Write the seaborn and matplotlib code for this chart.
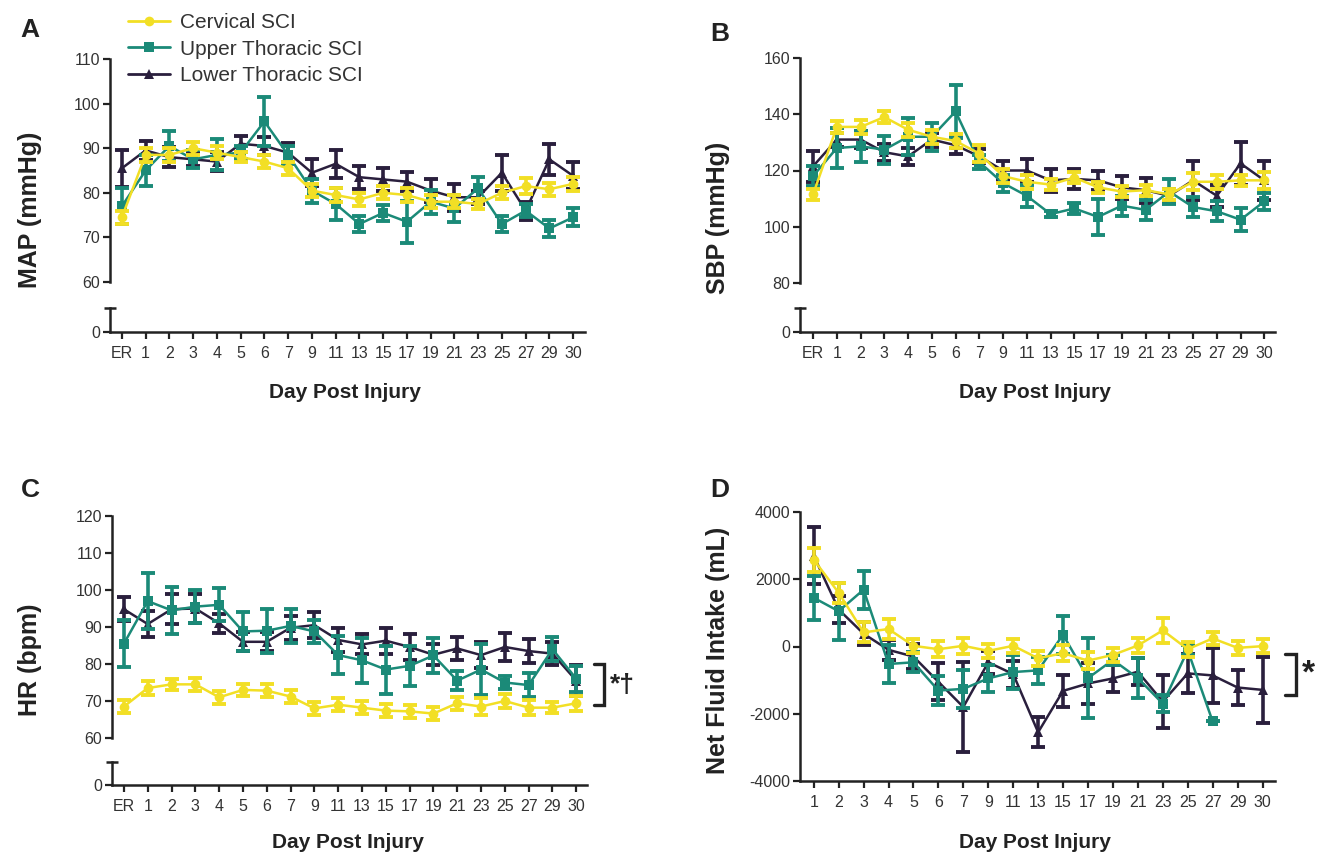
import numpy as np
import pandas as pd
import matplotlib
matplotlib.use('Agg')
import matplotlib.pyplot as plt
from matplotlib.lines import Line2D
import seaborn as sns

# ---- data ----
days = ['ER', '1', '2', '3', '4', '5', '6', '7', '9', '11', '13', '15', '17', '19', '21', '23', '25', '27', '29', '30']
days_fluid = days[1:]

groups = ['Cervical SCI', 'Upper Thoracic SCI', 'Lower Thoracic SCI']
colors = {'Cervical SCI': '#F2DF25', 'Upper Thoracic SCI': '#1B8A78', 'Lower Thoracic SCI': '#2A1F3D'}
markers = {'Cervical SCI': 'o', 'Upper Thoracic SCI': 's', 'Lower Thoracic SCI': '^'}
zorders = {'Cervical SCI': 5, 'Upper Thoracic SCI': 4, 'Lower Thoracic SCI': 3}

# MAP (mmHg)
map_cerv = [74.5, 88.5, 88.5, 90, 89, 88, 87, 85.5, 80.5, 79.5, 78.5, 80, 79.5, 78, 78, 77.5, 80, 81.5, 80.8, 82]
map_cerv_sem = [1.5, 1.5, 1.5, 1.5, 1.5, 1.2, 1.5, 1.5, 1.5, 1.5, 1.5, 1.5, 1.5, 1.5, 1.5, 1.2, 1.5, 1.8, 1.5, 1.5]
map_upper = [77, 85, 90.5, 87.5, 88.5, 89, 96, 88.5, 80.5, 77.5, 73, 75.5, 73.5, 78, 76.5, 81, 73, 76, 72, 74.5]
map_upper_sem = [4, 3.5, 3.3, 2, 3.5, 1.5, 5.5, 2, 2.7, 3.5, 1.8, 1.8, 4.7, 2.7, 3, 2.5, 1.8, 1.5, 2, 2]
map_lower = [85.5, 89.5, 88, 87.5, 87, 91, 90.5, 89, 84.5, 86.5, 83.5, 83, 82.5, 80.5, 79, 79, 84.5, 76, 87.5, 83.8]
map_lower_sem = [4.2, 2.2, 2.3, 1.5, 2.2, 1.8, 2, 2.2, 3, 3.2, 2.6, 2.6, 2.2, 2.6, 3, 1.5, 4, 2, 3.5, 3]

# SBP (mmHg)
sbp_cerv = [111.5, 135.5, 135.5, 139, 134.5, 132, 130.5, 126, 118, 116, 115, 117.5, 114, 112.5, 113, 111.5, 116, 116, 116.5, 116.5]
sbp_cerv_sem = [2, 2, 2.5, 2, 2.5, 2.5, 2.5, 3, 2.5, 2.5, 2, 2, 2, 2, 2, 2, 3, 2.5, 2, 3]
sbp_upper = [118, 128, 128.6, 127.4, 132, 132, 141, 123, 115.5, 111, 104.5, 106.5, 103.5, 107.5, 106, 112.5, 107, 105.5, 102.5, 109]
sbp_upper_sem = [3.5, 7, 5.4, 5, 6.5, 5, 9.5, 2.5, 3, 4, 1, 2, 6.5, 3.5, 3.5, 4.5, 3.5, 3.5, 4, 3]
sbp_lower = [121.5, 131, 131, 126.5, 125, 131, 129, 125, 120, 120, 116.5, 117, 116.5, 114, 113, 111, 116.5, 111, 122.5, 116.5]
sbp_lower_sem = [5.5, 2.5, 3, 3, 3, 2.5, 3, 2.5, 3.5, 4, 4, 3.5, 3.5, 4, 4.5, 2.5, 7, 4, 7.5, 7]

# HR (bpm)
hr_cerv = [68.5, 73.5, 74.5, 74.5, 71, 73, 72.8, 71.2, 68, 69, 68.2, 67.4, 67.2, 66.6, 69.4, 68.5, 70, 68.2, 68.2, 69.4]
hr_cerv_sem = [1.8, 1.8, 1.5, 1.7, 1.7, 1.7, 1.7, 1.7, 1.7, 1.7, 1.8, 1.7, 1.7, 1.7, 1.8, 2.2, 2, 2, 1.5, 2]
hr_upper = [85.5, 97, 94.5, 95.5, 96, 88.8, 89, 90.3, 88.8, 82.4, 81, 78.5, 79.5, 82.3, 75.5, 78.5, 75, 74.3, 84, 76]
hr_upper_sem = [6.4, 7.5, 6.3, 4.5, 4.5, 5.2, 6, 4.5, 3.2, 5.2, 6, 6.5, 5.5, 4.8, 2.6, 7, 1.8, 3.2, 3.2, 3.5]
hr_lower = [94.8, 90.8, 94.8, 95, 91, 86, 86, 89.8, 90.5, 86.5, 85.3, 86.3, 84.6, 82.5, 84.2, 82.4, 84.6, 83.5, 82.8, 75.5]
hr_lower_sem = [3.3, 3.5, 4, 4, 2.5, 2.6, 2.6, 3.3, 3.6, 3.3, 2.7, 3.5, 3.5, 2.8, 3.2, 3.5, 3.8, 3.2, 3.2, 4.2]

# Net fluid intake (mL), no ER value
fl_cerv = [2580, 1600, 420, 520, 20, -80, 20, -130, 20, -350, -200, -420, -250, 30, 480, -80, 240, -40, 10]
fl_cerv_sem = [350, 300, 300, 300, 200, 230, 240, 200, 200, 230, 230, 250, 200, 230, 380, 220, 200, 200, 200]
fl_upper = [1450, 1050, 1690, -520, -470, -1310, -1260, -950, -760, -710, 350, -940, -400, -940, -1700, -110, -2230, np.nan, np.nan]
fl_upper_sem = [650, 850, 560, 560, 300, 420, 560, 400, 500, 400, 560, 1190, 150, 600, 250, 150, 0, np.nan, np.nan]
fl_lower = [2700, 1100, 380, -100, -300, -1050, -1800, -470, -820, -2550, -1320, -1100, -950, -750, -1640, -800, -860, -1220, -1290]
fl_lower_sem = [850, 400, 350, 300, 380, 550, 1330, 350, 400, 450, 470, 600, 400, 400, 780, 580, 830, 520, 980]

# ---- style ----
sns.set_style('ticks')
plt.rcParams['font.family'] = ['Liberation Sans', 'DejaVu Sans']
plt.rcParams['axes.unicode_minus'] = False
INK = '#222222'
plt.rcParams['axes.edgecolor'] = INK
plt.rcParams['axes.linewidth'] = 1.8

W, H = 1324, 858
fig = plt.figure(figsize=(W / 100, H / 100), dpi=100)


def box(l, t, r, b):
    return [l / W, 1 - b / H, (r - l) / W, (b - t) / H]


def style_ticks(ax):
    ax.tick_params(direction='out', length=5, width=1.6, color=INK,
                   labelsize=11.5, labelcolor='#333333', pad=2)
    ax.tick_params(axis='x', pad=5)


def draw_series(ax, labels, series):
    pos = np.arange(len(labels))
    for g in ['Lower Thoracic SCI', 'Upper Thoracic SCI', 'Cervical SCI']:
        vals, sem = series[g]
        df = pd.DataFrame({'pos': pos, 'val': vals})
        sns.lineplot(data=df, x='pos', y='val', ax=ax, color=colors[g], marker=markers[g],
                     markersize=7, markeredgewidth=0, lw=1.8, zorder=zorders[g],
                     errorbar=None, legend=False)
        ax.errorbar(pos, vals, yerr=sem, fmt='none', ecolor=colors[g], elinewidth=2.6,
                    capsize=5, capthick=2.8, zorder=zorders[g])
    ax.set_xlabel('')
    ax.set_ylabel('')


def broken_panel(top_box, bot_box, labels, series, ylim, yticks, xlim):
    ax = fig.add_axes(box(*top_box))
    axb = fig.add_axes(box(*bot_box))
    draw_series(ax, labels, series)
    ax.set_xlim(*xlim)
    ax.set_ylim(*ylim)
    ax.set_yticks(yticks)
    sns.despine(ax=ax, bottom=True)
    ax.tick_params(axis='x', bottom=False, labelbottom=False)
    style_ticks(ax)

    axb.set_xlim(*xlim)
    axb.set_ylim(0, 1)
    axb.set_yticks([0])
    axb.set_xticks(np.arange(len(labels)))
    axb.set_xticklabels(labels)
    sns.despine(ax=axb)
    style_ticks(axb)
    axb.plot([0], [1], transform=axb.transAxes, marker='_', ms=9, mew=1.8,
             color=INK, clip_on=False)
    return ax, axb


# A: MAP
axA, _ = broken_panel((110, 59, 585, 282), (110, 308, 585, 332), days,
                      {'Cervical SCI': (map_cerv, map_cerv_sem),
                       'Upper Thoracic SCI': (map_upper, map_upper_sem),
                       'Lower Thoracic SCI': (map_lower, map_lower_sem)},
                      (60, 110), [60, 70, 80, 90, 100, 110], (-0.5, 19.5))

# B: SBP
axB, _ = broken_panel((800, 58, 1275, 283), (800, 308, 1275, 332), days,
                      {'Cervical SCI': (sbp_cerv, sbp_cerv_sem),
                       'Upper Thoracic SCI': (sbp_upper, sbp_upper_sem),
                       'Lower Thoracic SCI': (sbp_lower, sbp_lower_sem)},
                      (80, 160), [80, 100, 120, 140, 160], (-0.55, 19.45))

# C: HR
axC, _ = broken_panel((112, 516, 587, 738), (112, 762, 587, 785), days,
                      {'Cervical SCI': (hr_cerv, hr_cerv_sem),
                       'Upper Thoracic SCI': (hr_upper, hr_upper_sem),
                       'Lower Thoracic SCI': (hr_lower, hr_lower_sem)},
                      (60, 120), [60, 70, 80, 90, 100, 110, 120], (-0.5, 19.45))
axC.plot([19.75, 20.15, 20.15, 19.75], [80, 80, 68.8, 68.8], color=INK, lw=2.4,
         clip_on=False, solid_joinstyle='miter')
axC.text(20.4, 74.4, '*\u2020', fontsize=19, fontweight='bold', color=INK,
         ha='left', va='center', clip_on=False)

# D: net fluid intake
axD = fig.add_axes(box(800, 512, 1275, 781))
draw_series(axD, days_fluid, {'Cervical SCI': (fl_cerv, fl_cerv_sem),
                              'Upper Thoracic SCI': (fl_upper, fl_upper_sem),
                              'Lower Thoracic SCI': (fl_lower, fl_lower_sem)})
axD.set_xlim(-0.55, 18.5)
axD.set_ylim(-4000, 4000)
axD.set_yticks([-4000, -2000, 0, 2000, 4000])
axD.set_xticks(np.arange(len(days_fluid)))
axD.set_xticklabels(days_fluid)
sns.despine(ax=axD)
style_ticks(axD)
axD.plot([18.9, 19.35, 19.35, 18.9], [-230, -230, -1440, -1440], color=INK, lw=2.4,
         clip_on=False, solid_joinstyle='miter')
axD.text(19.85, -830, '*', fontsize=24, fontweight='bold', color=INK,
         ha='center', va='center', clip_on=False)

# axis titles
for (x, y, s) in [(30, 210, 'MAP (mmHg)'), (718, 218, 'SBP (mmHg)'),
                  (30, 660, 'HR (bpm)'), (718, 650, 'Net Fluid Intake (mL)')]:
    fig.text(x / W, 1 - y / H, s, rotation=90, fontsize=18, fontweight='bold',
             color=INK, ha='center', va='center')
for (x, y) in [(345, 392), (1035, 392), (348, 843), (1035, 843)]:
    fig.text(x / W, 1 - y / H, 'Day Post Injury', fontsize=15, fontweight='bold',
             color=INK, ha='center', va='center')
for (x, y, s) in [(30, 30, 'A'), (720, 34, 'B'), (30, 490, 'C'), (720, 490, 'D')]:
    fig.text(x / W, 1 - y / H, s, fontsize=19, fontweight='bold', color=INK,
             ha='center', va='center')

# legend
handles = [Line2D([], [], color=colors[g], marker=markers[g], ms=7, mew=0, lw=2)
           for g in groups]
fig.legend(handles, groups, loc='upper left', bbox_to_anchor=(120 / W, 1 - 5 / H),
           frameon=False, fontsize=15, handlelength=2.0, labelspacing=0.35,
           handletextpad=0.5, borderaxespad=0, labelcolor='#333333')

fig.savefig('out.png', dpi=100)
